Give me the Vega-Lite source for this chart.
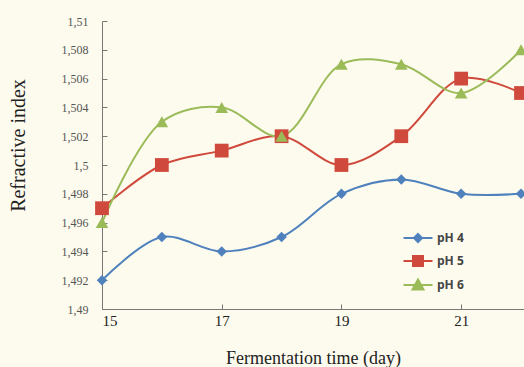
{
  "$schema": "https://vega.github.io/schema/vega-lite/v6.json",
  "width": 422,
  "height": 288,
  "autosize": "none",
  "padding": {"left": 102, "top": 21, "right": 0, "bottom": 58},
  "background": "#fdfbee",
  "config": {
    "view": {"stroke": null},
    "axis": {"grid": false, "domainColor": "#777", "tickColor": "#777", "labelFont": "Liberation Serif", "titleFont": "Liberation Serif", "titleFontWeight": "normal"},
    "legend": {"title": null, "orient": "none", "legendX": 305, "legendY": 206, "padding": 0,
      "symbolSize": 400, "symbolStrokeWidth": 2, "labelOffset": 8, "rowPadding": 4,
      "labelFont": "Open Sans", "labelFontSize": 12, "labelFontWeight": "bold", "labelColor": "#444"}
  },
  "data": {"values": [
    {"day": 15, "series": "pH 4", "ri": 1.492},
    {"day": 16, "series": "pH 4", "ri": 1.495},
    {"day": 17, "series": "pH 4", "ri": 1.494},
    {"day": 18, "series": "pH 4", "ri": 1.495},
    {"day": 19, "series": "pH 4", "ri": 1.498},
    {"day": 20, "series": "pH 4", "ri": 1.499},
    {"day": 21, "series": "pH 4", "ri": 1.498},
    {"day": 22, "series": "pH 4", "ri": 1.498},
    {"day": 15, "series": "pH 5", "ri": 1.497},
    {"day": 16, "series": "pH 5", "ri": 1.500},
    {"day": 17, "series": "pH 5", "ri": 1.501},
    {"day": 18, "series": "pH 5", "ri": 1.502},
    {"day": 19, "series": "pH 5", "ri": 1.500},
    {"day": 20, "series": "pH 5", "ri": 1.502},
    {"day": 21, "series": "pH 5", "ri": 1.506},
    {"day": 22, "series": "pH 5", "ri": 1.505},
    {"day": 15, "series": "pH 6", "ri": 1.496},
    {"day": 16, "series": "pH 6", "ri": 1.503},
    {"day": 17, "series": "pH 6", "ri": 1.504},
    {"day": 18, "series": "pH 6", "ri": 1.502},
    {"day": 19, "series": "pH 6", "ri": 1.507},
    {"day": 20, "series": "pH 6", "ri": 1.507},
    {"day": 21, "series": "pH 6", "ri": 1.505},
    {"day": 22, "series": "pH 6", "ri": 1.508}
  ]},
  "encoding": {
    "x": {"field": "day", "type": "quantitative",
      "scale": {"domain": [15, 22.05], "nice": false, "zero": false},
      "axis": {"values": [15, 17, 19, 21], "title": "Fermentation time (day)", "labelFontSize": 15, "labelColor": "#222", "labelPadding": 9, "tickSize": -5, "titleFontSize": 18, "titleColor": "#222", "titleY": 54, "titleBaseline": "alphabetic"}},
    "y": {"field": "ri", "type": "quantitative",
      "scale": {"domain": [1.49, 1.51], "nice": false, "zero": false},
      "axis": {"values": [1.49, 1.492, 1.494, 1.496, 1.498, 1.5, 1.502, 1.504, 1.506, 1.508, 1.51],
        "labelExpr": "replace(format(datum.value, '.3~f'), '.', ',')",
        "title": "Refractive index", "labelFontSize": 12, "labelColor": "#555", "labelPadding": 19, "tickSize": -5,
        "titleFontSize": 20, "titleColor": "#222", "titleX": -84, "titleY": 124, "titleBaseline": "middle", "titleAlign": "center", "titleAnchor": null}}
  },
  "layer": [
    {
      "mark": {"type": "line", "interpolate": "catmull-rom", "strokeWidth": 2},
      "encoding": {
        "stroke": {"field": "series", "type": "nominal",
          "scale": {"domain": ["pH 4", "pH 5", "pH 6"], "range": ["#4f81bd", "#cf4a3c", "#9bbb59"]}}
      }
    },
    {
      "mark": {"type": "point", "filled": true, "opacity": 1},
      "encoding": {
        "fill": {"field": "series", "type": "nominal",
          "scale": {"domain": ["pH 4", "pH 5", "pH 6"], "range": ["#4f81bd", "#cf4a3c", "#9bbb59"]}},
        "shape": {"condition": [
          {"test": "datum.series === 'pH 4'", "value": "diamond"},
          {"test": "datum.series === 'pH 5'", "value": "square"}], "value": "triangle-up"},
        "size": {"condition": [
          {"test": "datum.series === 'pH 4'", "value": 110},
          {"test": "datum.series === 'pH 5'", "value": 190}], "value": 160}
      }
    },
    {
      "transform": [{"filter": "false"}],
      "mark": {"type": "point", "filled": true, "opacity": 1},
      "encoding": {
        "shape": {"field": "series", "type": "nominal",
          "scale": {"domain": ["pH 4", "pH 5", "pH 6"], "range": [
            "M-1.45,0H1.45M0,-0.4L0.4,0L0,0.4L-0.4,0Z",
            "M-1.45,0H1.45M-0.5,-0.5H0.5V0.5H-0.5Z",
            "M-1.45,0H1.45M0,-0.55L0.55,0.45H-0.55Z"]}}
      }
    }
  ]
}
